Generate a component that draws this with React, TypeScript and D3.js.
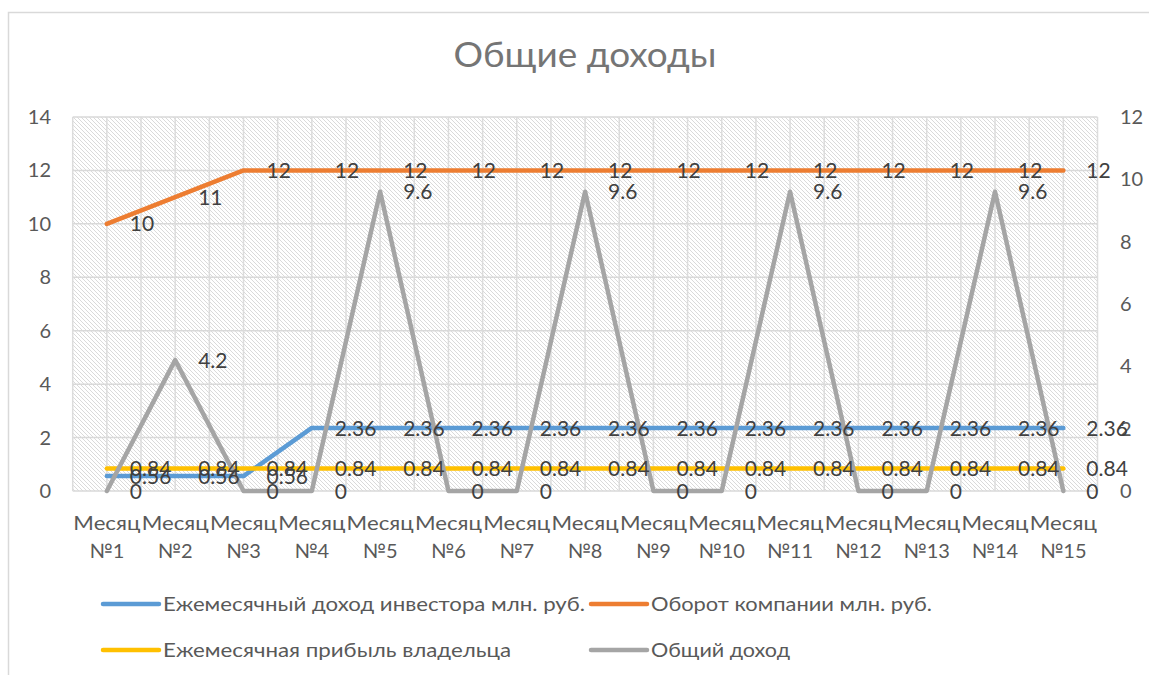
import React from "react";
import * as d3 from "d3";

const categories = ["Месяц №1","Месяц №2","Месяц №3","Месяц №4","Месяц №5","Месяц №6","Месяц №7","Месяц №8","Месяц №9","Месяц №10","Месяц №11","Месяц №12","Месяц №13","Месяц №14","Месяц №15"];
const investorIncome = [0.56,0.56,0.56,2.36,2.36,2.36,2.36,2.36,2.36,2.36,2.36,2.36,2.36,2.36,2.36];
const turnover = [10,11,12,12,12,12,12,12,12,12,12,12,12,12,12];
const ownerProfit = [0.84,0.84,0.84,0.84,0.84,0.84,0.84,0.84,0.84,0.84,0.84,0.84,0.84,0.84,0.84];
const totalIncome = [0,4.2,0,0,9.6,0,0,9.6,0,0,9.6,0,0,9.6,0];
const leftTicks = [0,2,4,6,8,10,12,14];
const rightTicks = [0,2,4,6,8,10,12];
const seriesNames = ["Ежемесячный доход инвестора млн. руб.","Оборот компании млн. руб.","Ежемесячная прибыль владельца","Общий доход"];
const title = "Общие доходы";

const FONT = "Lato, 'Open Sans', sans-serif";
const TXT = "#595959";

export default function App() {
  const W = 1149, H = 675;
  const left = 72.7, right = 1097.5, top = 117, bottom = 491;
  const x = d3.scalePoint<string>().domain(categories).range([left, right]).padding(0.5);
  const step = x.step();
  const yL = d3.scaleLinear().domain([0, 14]).range([bottom, top]);
  const yR = d3.scaleLinear().domain([0, 12]).range([bottom, top]);

  const series = [
    { name: seriesNames[0], values: investorIncome, color: "#5B9BD5", y: yL },
    { name: seriesNames[1], values: turnover, color: "#ED7D31", y: yL },
    { name: seriesNames[2], values: ownerProfit, color: "#FFC000", y: yL },
    { name: seriesNames[3], values: totalIncome, color: "#A5A5A5", y: yR },
  ];

  const vgrid: number[] = [];
  categories.forEach((c) => {
    vgrid.push((x(c) as number) - step / 2);
    vgrid.push(x(c) as number);
  });
  vgrid.push(right);

  const legend = [
    { s: series[0], lx: 103, ty: 604, tl: 422 },
    { s: series[1], lx: 591, ty: 604, tl: 281 },
    { s: series[2], lx: 103, ty: 650, tl: 348 },
    { s: series[3], lx: 591, ty: 650, tl: 139 },
  ];

  return (
    <svg width={W} height={H} style={{ position: "absolute", left: 0, top: 0, background: "#fff" }} fontFamily={FONT}>
      <defs>
        <pattern id="hatch" width="4" height="4" patternUnits="userSpaceOnUse">
          <rect width="4" height="4" fill="#ffffff" />
          <path d="M-1,-1 L5,5 M-1,3 L1,5 M3,-1 L5,1" stroke="#dadada" strokeWidth="1" />
        </pattern>
      </defs>
      <rect x={8.5} y={12.5} width={1300} height={800} fill="#fff" stroke="#d9d9d9" strokeWidth={1.5} />
      <text x={585} y={67} textAnchor="middle" fontSize={35} fill="#757575" textLength={263} lengthAdjust="spacingAndGlyphs">{title}</text>

      <rect x={left} y={top} width={right - left} height={bottom - top} fill="url(#hatch)" />
      {leftTicks.map((t) => (
        <line key={"h" + t} x1={left} x2={right} y1={yL(t)} y2={yL(t)} stroke="#d9d9d9" strokeWidth={1.5} />
      ))}
      {vgrid.map((v, i) => (
        <line key={"v" + i} x1={v} x2={v} y1={top} y2={bottom} stroke="#dcdcdc" strokeWidth={1.5} />
      ))}

      {leftTicks.map((t) => (
        <text key={"lt" + t} x={51} y={yL(t)} dy="0.35em" textAnchor="end" fontSize={20} fill={TXT}>{t}</text>
      ))}
      {rightTicks.map((t) => (
        <text key={"rt" + t} x={1120} y={yR(t)} dy="0.35em" textAnchor="start" fontSize={20} fill={TXT}>{t}</text>
      ))}
      {categories.map((c) => {
        const parts = c.split(" ");
        return (
          <g key={c}>
            <text x={x(c)} y={530} textAnchor="middle" fontSize={20} fill={TXT} textLength={67} lengthAdjust="spacingAndGlyphs">{parts[0]}</text>
            <text x={x(c)} y={558} textAnchor="middle" fontSize={20} fill={TXT}>{parts[1]}</text>
          </g>
        );
      })}

      {series.map((s) => {
        const line = d3.line<number>().x((_, i) => x(categories[i]) as number).y((d) => s.y(d));
        return <path key={s.name} d={line(s.values) || ""} fill="none" stroke={s.color} strokeWidth={4.5} strokeLinejoin="round" strokeLinecap="round" />;
      })}

      {series.map((s) =>
        s.values.map((v, i) => (
          <text key={s.name + i} x={(x(categories[i]) as number) + 23} y={s.y(v)} dy="0.36em" fontSize={21} fill="#404040">{String(v)}</text>
        ))
      )}

      {legend.map((l) => (
        <g key={l.s.name}>
          <line x1={l.lx} x2={l.lx + 56} y1={l.ty} y2={l.ty} stroke={l.s.color} strokeWidth={4.5} strokeLinecap="round" />
          <text x={l.lx + 60} y={l.ty} dy="0.35em" fontSize={19} fill={TXT} textLength={l.tl} lengthAdjust="spacingAndGlyphs">{l.s.name}</text>
        </g>
      ))}
    </svg>
  );
}
